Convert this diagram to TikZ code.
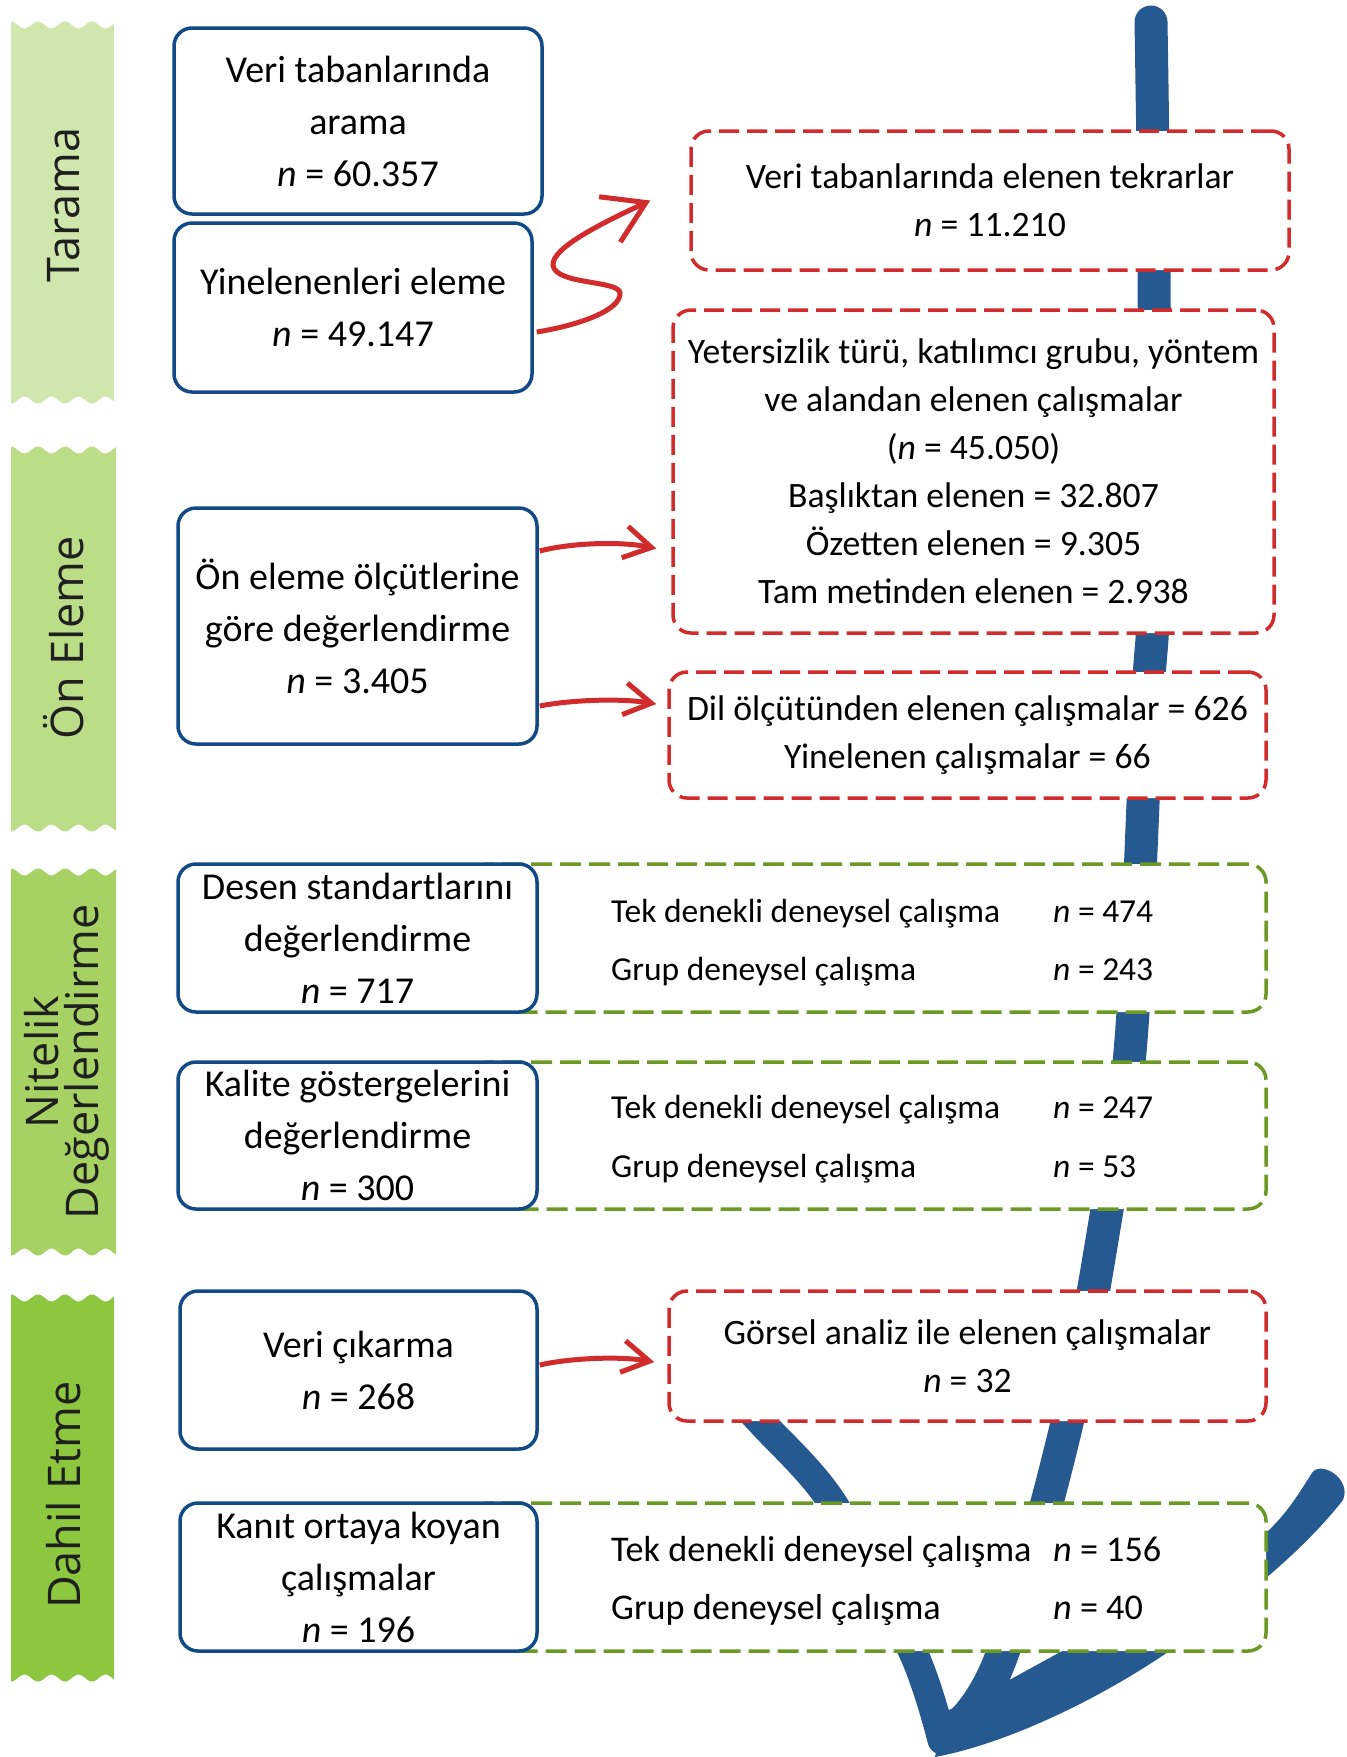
\documentclass[tikz,border=0pt]{standalone}
\usepackage{fontspec}
\setmainfont{Carlito}
\newfontfamily\bannerfont{Open Sans}
\usetikzlibrary{arrows.meta,calc}
\definecolor{boxblue}{HTML}{124A87}
\definecolor{bigblue}{HTML}{26598F}
\definecolor{exred}{HTML}{D22B2B}
\definecolor{ingreen}{HTML}{6A9A23}
\definecolor{bandA}{HTML}{CFE6AC}
\definecolor{bandB}{HTML}{BBDD87}
\definecolor{bandC}{HTML}{A6D263}
\definecolor{bandD}{HTML}{8DC63F}
\tikzset{
  stepbox/.style={draw=boxblue, line width=3.5pt, rounded corners=18pt, fill=white, align=center, inner sep=0pt, font=\fontsize{38}{52}\selectfont},
  exbox/.style={draw=exred, line width=3.5pt, dash pattern=on 20pt off 8pt, rounded corners=18pt, fill=white, align=center, inner sep=0pt, font=\fontsize{35.7}{48}\selectfont},
  inbox/.style={draw=ingreen, line width=3.5pt, dash pattern=on 21pt off 8pt, rounded corners=18pt, fill=white, inner sep=0pt},
  rowtxt/.style={anchor=base west, inner sep=0pt, font=\fontsize{33.5}{40}\selectfont},
  rowtxtb/.style={anchor=base west, inner sep=0pt, font=\fontsize{36.2}{40}\selectfont},
  exarrow/.style={draw=exred, line width=5pt, -{Straight Barb[length=27pt,width=32pt,line width=5pt]}},
  bigarrow/.style={draw=bigblue, line cap=round, line join=round},
  bandtxt/.style={rotate=90, font=\bannerfont\fontsize{45}{40}\selectfont, text=black!88, align=center, inner sep=0pt},
}
\newcommand\bandshape[5]{\fill[#5] plot[domain=#1:#3,samples=60,smooth] (\x,{#2-3.5*cos((\x-#1)*13.333)}) -- plot[domain=#3:#1,samples=60,smooth] (\x,{#4+3.5*cos((\x-#1)*13.333)}) -- cycle;}
\begin{document}
\begin{tikzpicture}[x=1pt,y=-1pt]
\useasboundingbox (0,0) rectangle (1347,1757);
\fill[white] (0,0) rectangle (1347,1757);
% big blue arrow (behind everything)
\fill[bigblue] (935,1757) -- (945,1712) -- (1013,1678)
  .. controls (1100,1630) and (1230,1560) .. (1268,1531)
  .. controls (1290,1510) and (1302,1488) .. (1312,1473)
  .. controls (1320,1460) and (1352,1478) .. (1343,1500)
  .. controls (1300,1555) and (1230,1610) .. (1168,1652)
  .. controls (1090,1705) and (1000,1745) .. (935,1757) -- cycle;
\draw[bigarrow, line width=33pt] plot[smooth, tension=0.6] coordinates {(1151,22) (1154,260) (1154,580) (1147,712) (1131,1040) (1107,1210) (1067,1423) (1003,1652) (962,1722)};
\draw[bigarrow, line width=29pt] plot[smooth] coordinates {(712,1370) (762,1423) (832,1502) (913,1652) (942,1740)};
% banners
\bandshape{11}{25}{114}{400}{bandA}
\bandshape{11}{450}{116}{828}{bandB}
\bandshape{11}{872}{116}{1252}{bandC}
\bandshape{11}{1298}{114}{1678}{bandD}
\node[bandtxt] (tA) at (64,205) {Tarama};
\node[bandtxt] (tB) at (64,638) {Ön Eleme};
\node[bandtxt] (tC) at (67,1062) {Nitelik\\Değerlendirme};
\node[bandtxt] (tD) at (64,1495) {Dahil Etme};
% green inclusion boxes
\node[inbox, minimum width=796pt, minimum height=148pt] (gE) at (868,938) {};
\node[inbox, minimum width=796pt, minimum height=147pt] (gF) at (868,1135.5) {};
\node[inbox, minimum width=796pt, minimum height=148pt] (gG) at (868,1577) {};
% step boxes
\node[stepbox, minimum width=368pt, minimum height=186pt] (b1) at (358,121) {Veri tabanlarında\\arama\\\textit{n} = 60.357};
\node[stepbox, minimum width=358pt, minimum height=169pt] (b2) at (353,307.5) {Yinelenenleri eleme\\\textit{n} = 49.147};
\node[stepbox, minimum width=359pt, minimum height=236pt] (b3) at (357.5,626) {Ön eleme ölçütlerine\\göre değerlendirme\\\textit{n} = 3.405};
\node[stepbox, minimum width=359pt, minimum height=148pt] (b4) at (357.5,938) {Desen standartlarını\\değerlendirme\\\textit{n} = 717};
\node[stepbox, minimum width=359pt, minimum height=147pt] (b5) at (357.5,1135.5) {Kalite göstergelerini\\değerlendirme\\\textit{n} = 300};
\node[stepbox, minimum width=357pt, minimum height=158pt] (b6) at (358.5,1370) {Veri çıkarma\\\textit{n} = 268};
\node[stepbox, minimum width=357pt, minimum height=148pt] (b7) at (358.5,1577) {Kanıt ortaya koyan\\çalışmalar\\\textit{n} = 196};
% exclusion boxes
\node[exbox, minimum width=598pt, minimum height=139pt] (rA) at (990,200.5) {Veri tabanlarında elenen tekrarlar\\\textit{n} = 11.210};
\node[exbox, minimum width=601pt, minimum height=323pt] (rB) at (973.5,471.5) {Yetersizlik türü, katılımcı grubu, yöntem\\ve alandan elenen çalışmalar\\(\textit{n} = 45.050)\\Başlıktan elenen = 32.807\\Özetten elenen = 9.305\\Tam metinden elenen = 2.938};
\node[exbox, minimum width=597pt, minimum height=126pt] (rC) at (967.5,735) {Dil ölçütünden elenen çalışmalar = 626\\Yinelenen çalışmalar = 66};
\node[exbox, minimum width=597pt, minimum height=130pt] (rD) at (967.5,1356) {Görsel analiz ile elenen çalışmalar\\\textit{n} = 32};
% rows in inclusion boxes
\node[rowtxt] (e1) at (611,922) {Tek denekli deneysel çalışma};
\node[rowtxt] (e2) at (1053,922) {\textit{n} = 474};
\node[rowtxt] (e3) at (611,980) {Grup deneysel çalışma};
\node[rowtxt] (e4) at (1053,980) {\textit{n} = 243};
\node[rowtxt] (f1) at (611,1118) {Tek denekli deneysel çalışma};
\node[rowtxt] (f2) at (1053,1118) {\textit{n} = 247};
\node[rowtxt] (f3) at (611,1177) {Grup deneysel çalışma};
\node[rowtxt] (f4) at (1053,1177) {\textit{n} = 53};
\node[rowtxtb] (h1) at (611,1561) {Tek denekli deneysel çalışma};
\node[rowtxtb] (h2) at (1053,1561) {\textit{n} = 156};
\node[rowtxtb] (h3) at (611,1619) {Grup deneysel çalışma};
\node[rowtxtb] (h4) at (1053,1619) {\textit{n} = 40};
% red arrows
\draw[exarrow, -{Straight Barb[length=40pt,width=50pt,line width=5pt]}] ($(b2.east)+(3,24.5)$) .. controls (580,325) and (621,310) .. (620,293) .. controls (619,280) and (555,285) .. (553,265) .. controls (552,248) and (600,224) .. ($(rA.west)+(-39,0)$);
\draw[exarrow] ($(b3.east)+(1,-75)$) .. controls (570,543) and (620,541) .. ($(rB.west)+(-15,77)$);
\draw[exarrow] ($(b3.east)+(1,80)$) .. controls (570,700) and (620,698) .. ($(rC.west)+(-11,-31)$);
\draw[exarrow] ($(b6.east)+(1,-5)$) .. controls (570,1358) and (620,1356) .. ($(rD.west)+(-13,6)$);
\end{tikzpicture}
\end{document}
